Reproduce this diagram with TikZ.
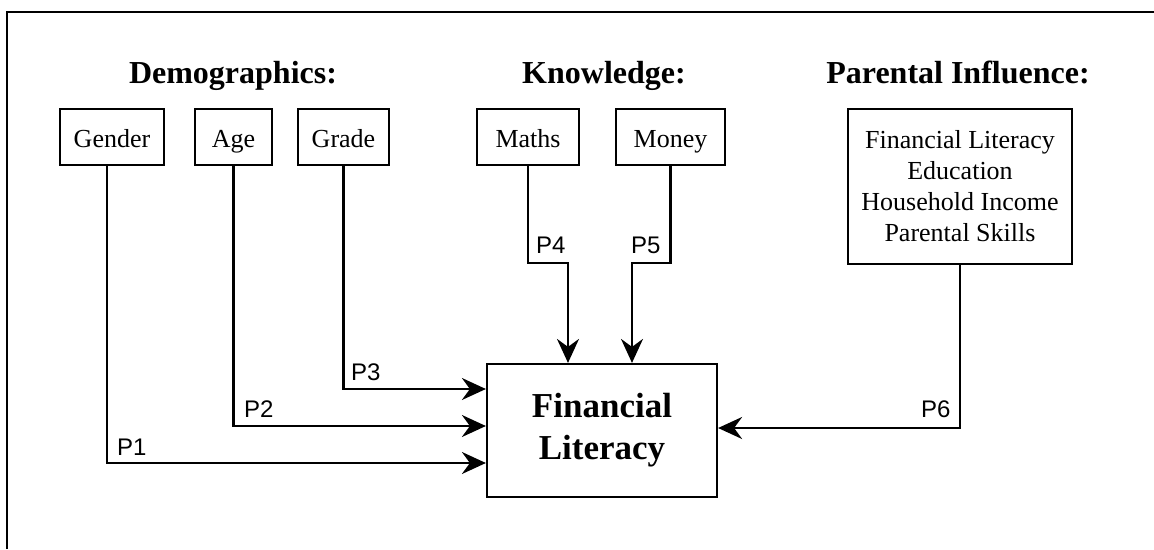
\documentclass[tikz,border=0pt]{standalone}
\usepackage{fontspec}
\setmainfont{Liberation Serif}
\newfontfamily\psans{Liberation Sans}
\usetikzlibrary{arrows.meta}
\tikzset{
  lw/.style={line width=2.2pt},
  box/.style={draw, lw, inner sep=0pt, align=center, font=\fontsize{26}{31}\selectfont},
  sbox/.style={box, text height=24pt, text depth=4pt},
  ttl/.style={font=\bfseries\fontsize{32}{38}\selectfont, inner sep=0pt, anchor=base},
  plab/.style={font=\psans\fontsize{24}{28}\selectfont, inner sep=0pt, anchor=base west},
  arr/.style={lw, -{Stealth[length=24pt,width=22pt,inset=8pt]}}
}
\begin{document}
\begin{tikzpicture}[x=1pt,y=-1pt]
\useasboundingbox (0,0) rectangle (1154,549);
\draw[lw] (7,549) -- (7,12) -- (1154,12);
% titles
\node[ttl] (tdem) at (233,83) {Demographics:};
\node[ttl] (tkno) at (604,83) {Knowledge:};
\node[ttl] (tpar) at (958,83) {Parental Influence:};
% boxes
\node[sbox, minimum width=104pt, minimum height=56pt] (gender) at (112,137) {Gender};
\node[sbox, minimum width=77pt, minimum height=56pt] (age) at (233.5,137) {Age};
\node[sbox, minimum width=91pt, minimum height=56pt] (grade) at (343.5,137) {Grade};
\node[sbox, minimum width=102pt, minimum height=56pt] (maths) at (528,137) {Maths};
\node[sbox, minimum width=109pt, minimum height=56pt] (money) at (670.5,137) {Money};
\node[box, minimum width=224pt, minimum height=155pt] (par) at (960,186.5) {Financial Literacy\\Education\\Household Income\\Parental Skills};
\node[box, minimum width=230pt, minimum height=133pt, font=\bfseries\fontsize{35}{42}\selectfont] (fl) at (602,430.5) {Financial\\Literacy};
% connectors
\draw[arr] ([xshift=-5pt]gender.south) |- ([yshift=-32.5pt]fl.west);
\draw[arr] (age.south) |- ([yshift=4.5pt]fl.west);
\draw[arr] (grade.south) |- ([yshift=41.5pt]fl.west);
\draw[arr] (maths.south) -- ++(0,97) -| ([xshift=-34pt]fl.north);
\draw[arr] (money.south) -- ++(0,97) -| ([xshift=30pt]fl.north);
\draw[arr] (par.south) |- ([yshift=2.5pt]fl.east);
% labels
\node[plab] (p1) at (117,455) {P1};
\node[plab] (p2) at (244,417) {P2};
\node[plab] (p3) at (351,380) {P3};
\node[plab] (p4) at (536,253) {P4};
\node[plab] (p5) at (631,253) {P5};
\node[plab] (p6) at (921,417) {P6};
\end{tikzpicture}
\end{document}
